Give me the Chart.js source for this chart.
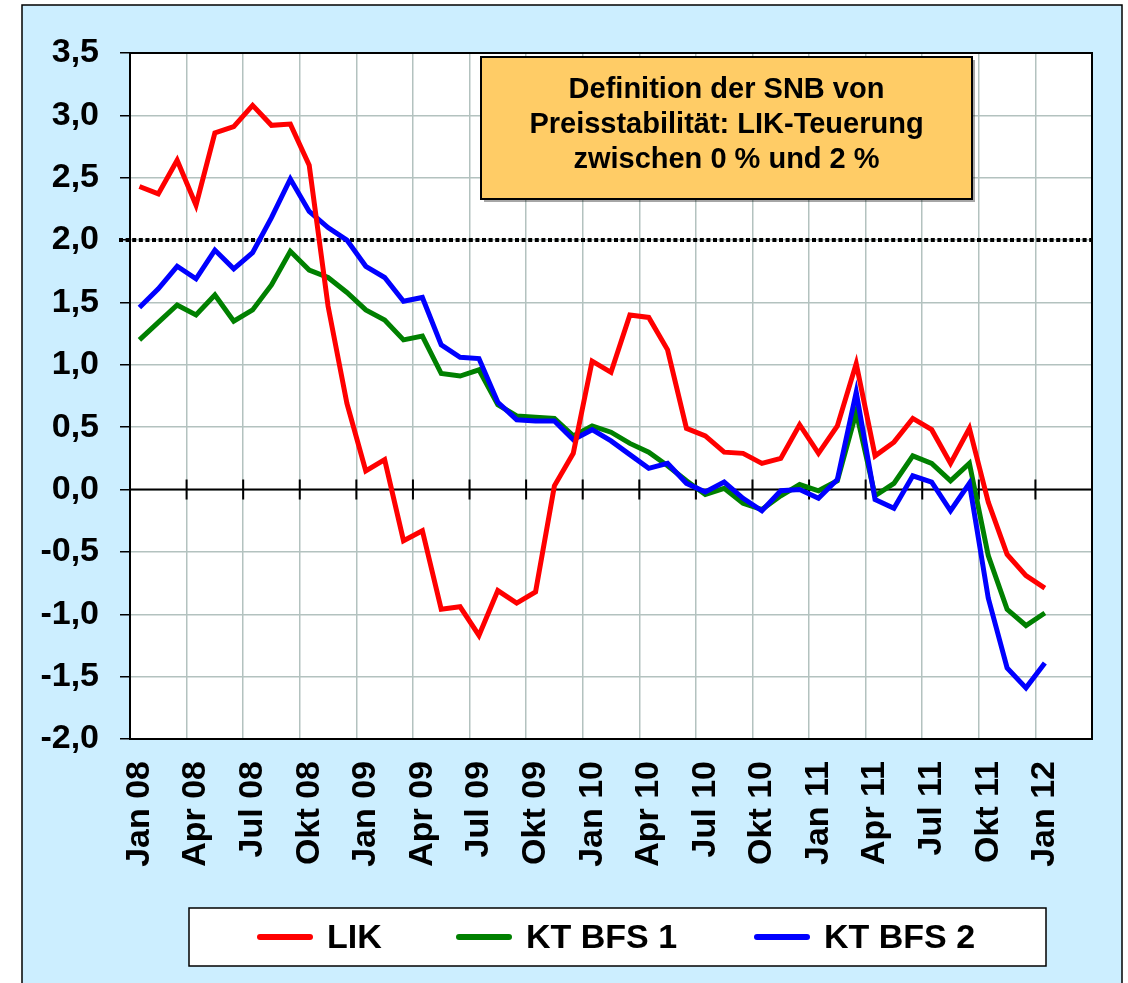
<!DOCTYPE html>
<html>
<head>
<meta charset="utf-8">
<script src="https://cdn.jsdelivr.net/npm/chart.js@4/dist/chart.umd.min.js"></script>
<style>
  html, body { margin: 0; padding: 0; background: #fff; }
  canvas { display: block; }
</style>
</head>
<body>
<canvas id="chart" width="1128" height="983"></canvas>
<script>
/* ── Daten ───────────────────────────────────────── */
var months = [
  'Jan 08','Feb 08','Mär 08','Apr 08','Mai 08','Jun 08','Jul 08','Aug 08','Sep 08','Okt 08','Nov 08','Dez 08',
  'Jan 09','Feb 09','Mär 09','Apr 09','Mai 09','Jun 09','Jul 09','Aug 09','Sep 09','Okt 09','Nov 09','Dez 09',
  'Jan 10','Feb 10','Mär 10','Apr 10','Mai 10','Jun 10','Jul 10','Aug 10','Sep 10','Okt 10','Nov 10','Dez 10',
  'Jan 11','Feb 11','Mär 11','Apr 11','Mai 11','Jun 11','Jul 11','Aug 11','Sep 11','Okt 11','Nov 11','Dez 11',
  'Jan 12','Feb 12','Mär 12'
];

var seriesNames = ['LIK', 'KT BFS 1', 'KT BFS 2'];
var seriesColors = ['#ff0000', '#008000', '#0000ff'];

var lik = [
  2.43, 2.37, 2.64, 2.28, 2.86, 2.91, 3.08, 2.92, 2.93, 2.60, 1.47, 0.69,
  0.15, 0.24, -0.41, -0.33, -0.96, -0.94, -1.17, -0.81, -0.91, -0.82, 0.03, 0.29,
  1.03, 0.94, 1.40, 1.38, 1.12, 0.49, 0.43, 0.30, 0.29, 0.21, 0.25, 0.52,
  0.29, 0.51, 1.01, 0.27, 0.38, 0.57, 0.48, 0.21, 0.49, -0.10, -0.52, -0.69,
  -0.79
];
var ktBfs1 = [
  1.20, 1.34, 1.48, 1.40, 1.56, 1.35, 1.44, 1.64, 1.91, 1.76, 1.70, 1.58,
  1.44, 1.36, 1.20, 1.23, 0.93, 0.91, 0.96, 0.68, 0.59, 0.58, 0.57, 0.43,
  0.51, 0.46, 0.37, 0.30, 0.19, 0.07, -0.04, 0.01, -0.11, -0.16, -0.05, 0.04,
  -0.01, 0.07, 0.62, -0.05, 0.05, 0.27, 0.21, 0.07, 0.21, -0.53, -0.96, -1.09,
  -0.99
];
var ktBfs2 = [
  1.46, 1.61, 1.79, 1.69, 1.92, 1.77, 1.90, 2.18, 2.49, 2.23, 2.10, 2.00,
  1.79, 1.70, 1.51, 1.54, 1.16, 1.06, 1.05, 0.70, 0.56, 0.55, 0.55, 0.40,
  0.48, 0.39, 0.28, 0.17, 0.21, 0.05, -0.02, 0.06, -0.07, -0.17, -0.01, 0.00,
  -0.07, 0.08, 0.78, -0.08, -0.15, 0.11, 0.06, -0.17, 0.05, -0.87, -1.43, -1.59,
  -1.39
];

var yMin = -2.0, yMax = 3.5, yStep = 0.5;
var targetLine = 2.0;
var noteLines = ['Definition der SNB von', 'Preisstabilität: LIK-Teuerung', 'zwischen 0 % und 2 %'];

var FONT = "'Liberation Sans', Arial, sans-serif";
var GRID = '#b3c2bf';

/* ── Rahmen, Hilfslinien, Textbox, Legende ───────── */
var decor = {
  id: 'decor',
  beforeDraw: function(chart) {
    var c = chart.ctx, a = chart.chartArea;
    c.save();
    c.fillStyle = '#ffffff';
    c.fillRect(0, 0, chart.width, chart.height);
    c.fillStyle = '#cceeff';
    c.fillRect(22, 5, 1100, 990);
    c.strokeStyle = '#000';
    c.lineWidth = 1.5;
    c.strokeRect(22, 5, 1100, 990);
    c.fillStyle = '#ffffff';
    c.fillRect(a.left, a.top, a.right - a.left, a.bottom - a.top);
    c.restore();
  },
  beforeDatasetsDraw: function(chart) {
    var c = chart.ctx, a = chart.chartArea;
    var x = chart.scales.x, y = chart.scales.y;
    var y0 = y.getPixelForValue(0);
    var half = (x.getPixelForValue(1) - x.getPixelForValue(0)) / 2;
    c.save();
    // Nulllinie mit Kreuz-Ticks
    c.strokeStyle = '#000';
    c.lineWidth = 2;
    c.beginPath();
    c.moveTo(a.left, y0); c.lineTo(a.right, y0);
    for (var i = 3; i < months.length; i += 3) {
      var px = x.getPixelForValue(i) - half;
      c.moveTo(px, y0 - 10); c.lineTo(px, y0 + 10);
    }
    c.stroke();
    // 2%-Linie gepunktet
    var y2 = y.getPixelForValue(targetLine);
    c.lineWidth = 4;
    c.setLineDash([4, 2.6]);
    c.beginPath();
    c.moveTo(a.left - 11, y2); c.lineTo(a.right, y2);
    c.stroke();
    c.setLineDash([]);
    // Plotrahmen
    c.lineWidth = 2;
    c.strokeRect(a.left, a.top, a.right - a.left, a.bottom - a.top);
    c.restore();
  },
  afterDraw: function(chart) {
    var c = chart.ctx;
    c.save();
    // Textbox
    c.fillStyle = 'rgba(0,0,0,0.35)';
    c.fillRect(484, 60, 491, 142);
    c.fillStyle = '#ffcc66';
    c.fillRect(481, 57, 491, 142);
    c.strokeStyle = '#000';
    c.lineWidth = 2;
    c.strokeRect(481, 57, 491, 142);
    c.fillStyle = '#000';
    c.font = 'bold 29px ' + FONT;
    c.textAlign = 'center';
    c.textBaseline = 'alphabetic';
    noteLines.forEach(function(t, i) { c.fillText(t, 726.5, 98 + i * 35); });

    // Legende
    c.fillStyle = '#ffffff';
    c.fillRect(189, 908, 857, 58);
    c.lineWidth = 1.5;
    c.strokeRect(189, 908, 857, 58);
    var sx = [257, 456, 754];
    c.font = 'bold 34px ' + FONT;
    c.textAlign = 'left';
    chart.data.datasets.forEach(function(ds, i) {
      c.strokeStyle = ds.borderColor;
      c.lineWidth = 6;
      c.lineCap = 'round';
      c.beginPath();
      c.moveTo(sx[i] + 3, 937); c.lineTo(sx[i] + 53, 937);
      c.stroke();
      c.fillStyle = '#000';
      c.fillText(ds.label, sx[i] + 70, 948);
    });
    c.restore();
  }
};

/* ── Chart ───────────────────────────────────────── */
function makeSet(idx, values, order) {
  return {
    label: seriesNames[idx],
    data: values,
    borderColor: seriesColors[idx],
    backgroundColor: seriesColors[idx],
    borderWidth: 5,
    pointRadius: 0,
    tension: 0,
    fill: false,
    order: order
  };
}

new Chart(document.getElementById('chart'), {
  type: 'line',
  data: {
    labels: months,
    datasets: [
      makeSet(0, lik, 0),
      makeSet(1, ktBfs1, 2),
      makeSet(2, ktBfs2, 1)
    ]
  },
  options: {
    responsive: false,
    animation: false,
    layout: { padding: { left: 40, top: 53, right: 36, bottom: 0 } },
    plugins: { legend: { display: false }, tooltip: { enabled: false } },
    scales: {
      x: {
        offset: true,
        grid: {
          offset: true,
          drawTicks: false,
          lineWidth: 1.5,
          color: function(ctx) { return ctx.index % 3 === 0 ? GRID : 'rgba(0,0,0,0)'; }
        },
        border: { color: '#000', width: 2 },
        ticks: {
          autoSkip: false,
          minRotation: 90,
          maxRotation: 90,
          padding: 22,
          color: '#000',
          font: { family: FONT, size: 34, weight: 'bold' },
          callback: function(v, i) { return i % 3 === 0 ? months[i] : ''; }
        },
        afterFit: function(s) {
          s.height = 244;
          s.paddingLeft = 0;
          s.paddingRight = 0;
        }
      },
      y: {
        min: yMin,
        max: yMax,
        grid: {
          color: GRID,
          lineWidth: 1.5,
          tickColor: '#000',
          tickLength: 10
        },
        border: { color: '#000', width: 2 },
        ticks: {
          stepSize: yStep,
          padding: 21,
          color: '#000',
          font: { family: FONT, size: 34, weight: 'bold' },
          callback: function(v) { return v.toFixed(1).replace('.', ','); }
        },
        afterFit: function(s) { s.width = 90; }
      }
    }
  },
  plugins: [decor]
});
</script>
</body>
</html>
